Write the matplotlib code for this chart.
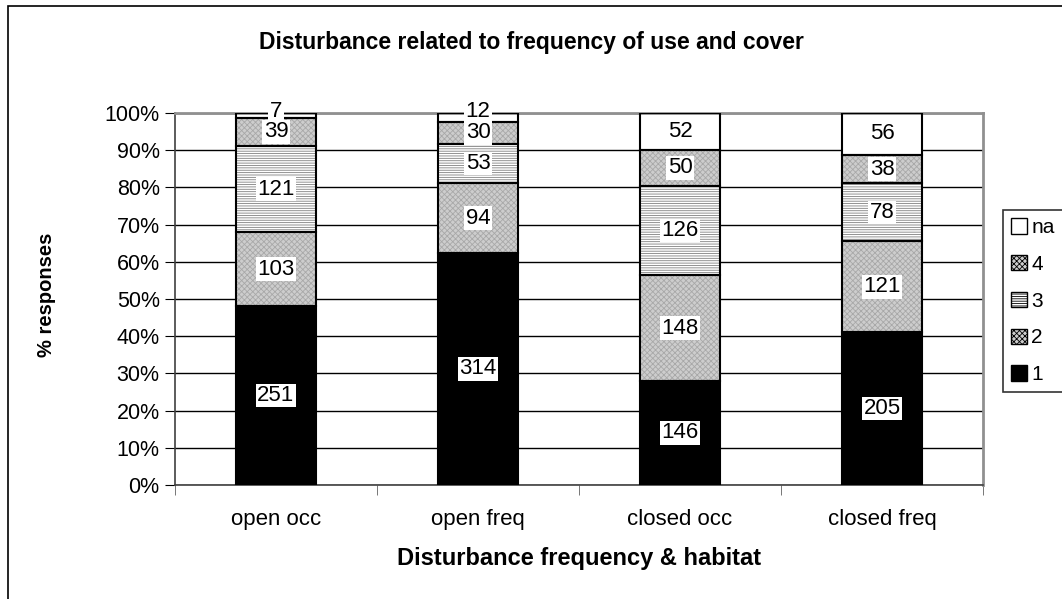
import numpy as np
import matplotlib
matplotlib.use("Agg")
import matplotlib.pyplot as plt
from matplotlib.patches import Patch, Rectangle

plt.rcParams['font.family'] = ['Liberation Sans', 'DejaVu Sans']
plt.rcParams['hatch.linewidth'] = 0.6

categories = ["open occ", "open freq", "closed occ", "closed freq"]
series_names = ["1", "2", "3", "4", "na"]
counts_1 = [251, 314, 146, 205]
counts_2 = [103, 94, 148, 121]
counts_3 = [121, 53, 126, 78]
counts_4 = [39, 30, 50, 38]
counts_na = [7, 12, 52, 56]

all_counts = np.array([counts_1, counts_2, counts_3, counts_4, counts_na], dtype=float)
totals = all_counts.sum(axis=0)
pct = all_counts / totals * 100

# fill, hatch, hatch colour for each series
styles = [
    ("black", None, "black"),
    ("#cdcdcd", "xxxxxx", "#a8a8a8"),
    ("white", "-------", "#808080"),
    ("#cdcdcd", "xxxxxx", "#a8a8a8"),
    ("white", None, "white"),
]

fig = plt.figure(figsize=(10.62, 5.99), dpi=100)
ax = fig.add_axes([175 / 1062, 1 - 485 / 599, (983 - 175) / 1062, (485 - 113) / 599])

# outer chart frame (cropped on right and bottom)
fig.patches.append(Rectangle((8 / 1062, -0.1), 1.2, 1 - 6 / 599 + 0.1,
                             transform=fig.transFigure, fill=False,
                             edgecolor="black", linewidth=1.2, zorder=0))

x = np.arange(len(categories))
width = 0.4
bottom = np.zeros(len(categories))
for i, name in enumerate(series_names):
    fc, hatch, hc = styles[i]
    ax.bar(x, pct[i], width, bottom=bottom, color=fc, hatch=hatch,
           edgecolor=hc, linewidth=0, zorder=2)
    ax.bar(x, pct[i], width, bottom=bottom, fill=False,
           edgecolor="black", linewidth=1.5, zorder=3)
    for j in range(len(categories)):
        # tiny top segments: push the label up a little, lower labels sit on top
        yc = bottom[j] + pct[i][j] / 2
        if pct[i][j] < 3:
            yc = bottom[j] + pct[i][j] + 0.3
        ax.text(x[j], yc, str(int(all_counts[i][j])),
                ha="center", va="center", fontsize=16, zorder=5 - i * 0.1,
                bbox=dict(facecolor="white", edgecolor="none", pad=1.0))
    bottom += pct[i]

ax.set_xlim(-0.5, len(categories) - 0.5)
ax.set_ylim(0, 100)
ax.set_yticks(np.arange(0, 101, 10))
ax.set_yticklabels([f"{v}%" for v in range(0, 101, 10)], fontsize=15.5)
ax.set_xticks(x)
ax.set_xticklabels(categories, fontsize=16)
ax.tick_params(axis="x", length=0, pad=17)
ax.set_xticks(np.arange(-0.5, len(categories)), minor=True)
ax.tick_params(axis="x", which="minor", length=7, direction="out", color="#606060")
ax.tick_params(axis="y", length=7, direction="out", pad=4)
ax.yaxis.grid(True, color="black", linewidth=1, zorder=1)
ax.set_axisbelow(True)

for s in ["left", "bottom"]:
    ax.spines[s].set_color("#404040")
    ax.spines[s].set_linewidth(1.2)
for s in ["top", "right"]:
    ax.spines[s].set_color("#909090")
    ax.spines[s].set_linewidth(2)

fig.text(46 / 1062, 1 - 295 / 599, "% responses", rotation=90,
         ha="center", va="center", fontsize=14.5, fontweight="bold")
fig.text((175 + 983) / 2 / 1062, 1 - 558 / 599, "Disturbance frequency & habitat",
         ha="center", va="center", fontsize=17, fontweight="bold")
fig.text(0.5, 1 - 42 / 599, "Disturbance related to frequency of use and cover",
         ha="center", va="center", fontsize=16.5, fontweight="bold")

handles = [Patch(facecolor=styles[i][0], hatch=styles[i][1], edgecolor="black")
           for i in range(len(series_names))][::-1]
leg = fig.legend(handles, series_names[::-1], loc="upper left",
                 bbox_to_anchor=(1003 / 1062, 1 - 210 / 599), fontsize=15,
                 frameon=True, fancybox=False, edgecolor="black",
                 handlelength=0.75, handleheight=0.75, handletextpad=0.2,
                 labelspacing=0.85, borderpad=0.4, borderaxespad=0)
leg.get_frame().set_linewidth(1.2)

fig.savefig("out.png", dpi=100)
